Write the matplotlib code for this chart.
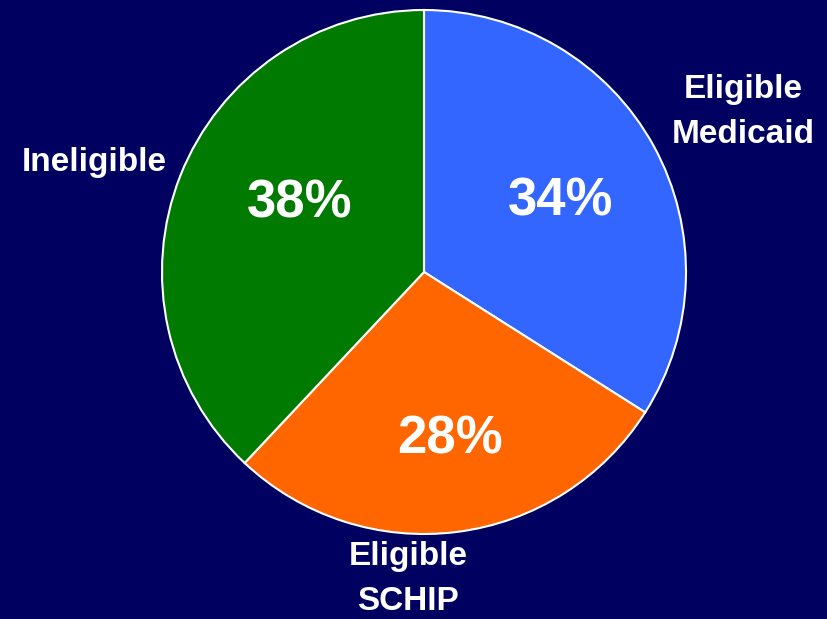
import matplotlib.pyplot as plt

categories = ['Eligible\nMedicaid', 'Eligible\nSCHIP', 'Ineligible']
shares = [34, 28, 38]
colors = ['#3366FF', '#FF6600', '#007A00']

bg = '#000060'

fig = plt.figure(figsize=(8.27, 6.19), dpi=100, facecolor=bg)
ax = fig.add_axes([0, 0, 1, 1])
ax.set_facecolor(bg)

# pie in pixel coordinates (y from bottom)
wedges, _ = ax.pie(shares, colors=colors, startangle=90, counterclock=False,
                   center=(424, 619 - 272), radius=262,
                   wedgeprops=dict(edgecolor='white', linewidth=1.5))

ax.set_xlim(0, 827)
ax.set_ylim(0, 619)
ax.set_aspect('equal')
ax.axis('off')

# percentage labels
pct_pos = [(561, 201), (450, 439), (300, 203)]
for (x, y), v in zip(pct_pos, shares):
    ax.text(x, 619 - y, f'{v}%', ha='center', va='center', color='white',
            fontsize=38, fontweight='bold', family='Liberation Sans')

# category labels
cat_pos = [(743, 112), (408, 579), (94, 163)]
for (x, y), c in zip(cat_pos, categories):
    ax.text(x, 619 - y, c, ha='center', va='center', color='white',
            fontsize=24, fontweight='bold', family='Liberation Sans',
            linespacing=1.6)

fig.savefig('out.png', dpi=100, facecolor=bg)
